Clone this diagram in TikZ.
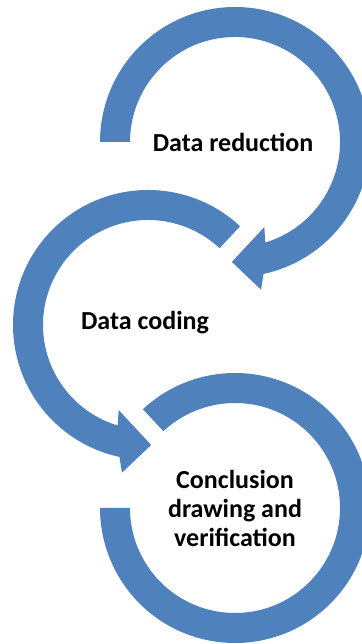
\documentclass[tikz,border=0pt]{standalone}
\usepackage{fontspec}
\setmainfont{Carlito}
\usepackage{tikz}
\definecolor{arrowblue}{RGB}{79,129,189}
\tikzset{
  cyclearrow/.style={fill=arrowblue, draw=none},
  steplabel/.style={font=\bfseries\fontsize{26}{29}\selectfont, align=center, text=black, inner sep=0pt}
}

\begin{document}
\begin{tikzpicture}[x=1pt,y=1pt]
\useasboundingbox (0,0) rectangle (361,644);
\coordinate (c1) at (235,502);
\coordinate (c2) at (148,319);
\coordinate (c3) at (235,136);
\fill[cyclearrow] ([shift={(180:135)}]c1) arc[start angle=180, end angle=-77.8, radius=135]
  -- ([shift={(-80:150)}]c1) -- ([shift={(-91.5:120)}]c1) -- ([shift={(-71:90)}]c1)
  -- ([shift={(-73.2:105)}]c1) arc[start angle=-73.2, end angle=180, radius=105] -- cycle;
\fill[cyclearrow] ([shift={(47:135)}]c2) arc[start angle=47, end angle=257.8, radius=135]
  -- ([shift={(260:150)}]c2) -- ([shift={(271.5:120)}]c2) -- ([shift={(251:90)}]c2)
  -- ([shift={(253.2:105)}]c2) arc[start angle=253.2, end angle=47, radius=105] -- cycle;
\fill[cyclearrow] ([shift={(133:135)}]c3) arc[start angle=133, end angle=-180, radius=135]
  -- ([shift={(180:105)}]c3) arc[start angle=-180, end angle=133, radius=105] -- cycle;
\node[steplabel] (reduction) at ([xshift=-2pt]c1) {Data reduction};
\node[steplabel] (coding) at ([xshift=-3pt,yshift=2pt]c2) {Data coding};
\node[steplabel] (conclusion) at (c3) {Conclusion\\drawing and\\verification};
\end{tikzpicture}
\end{document}
